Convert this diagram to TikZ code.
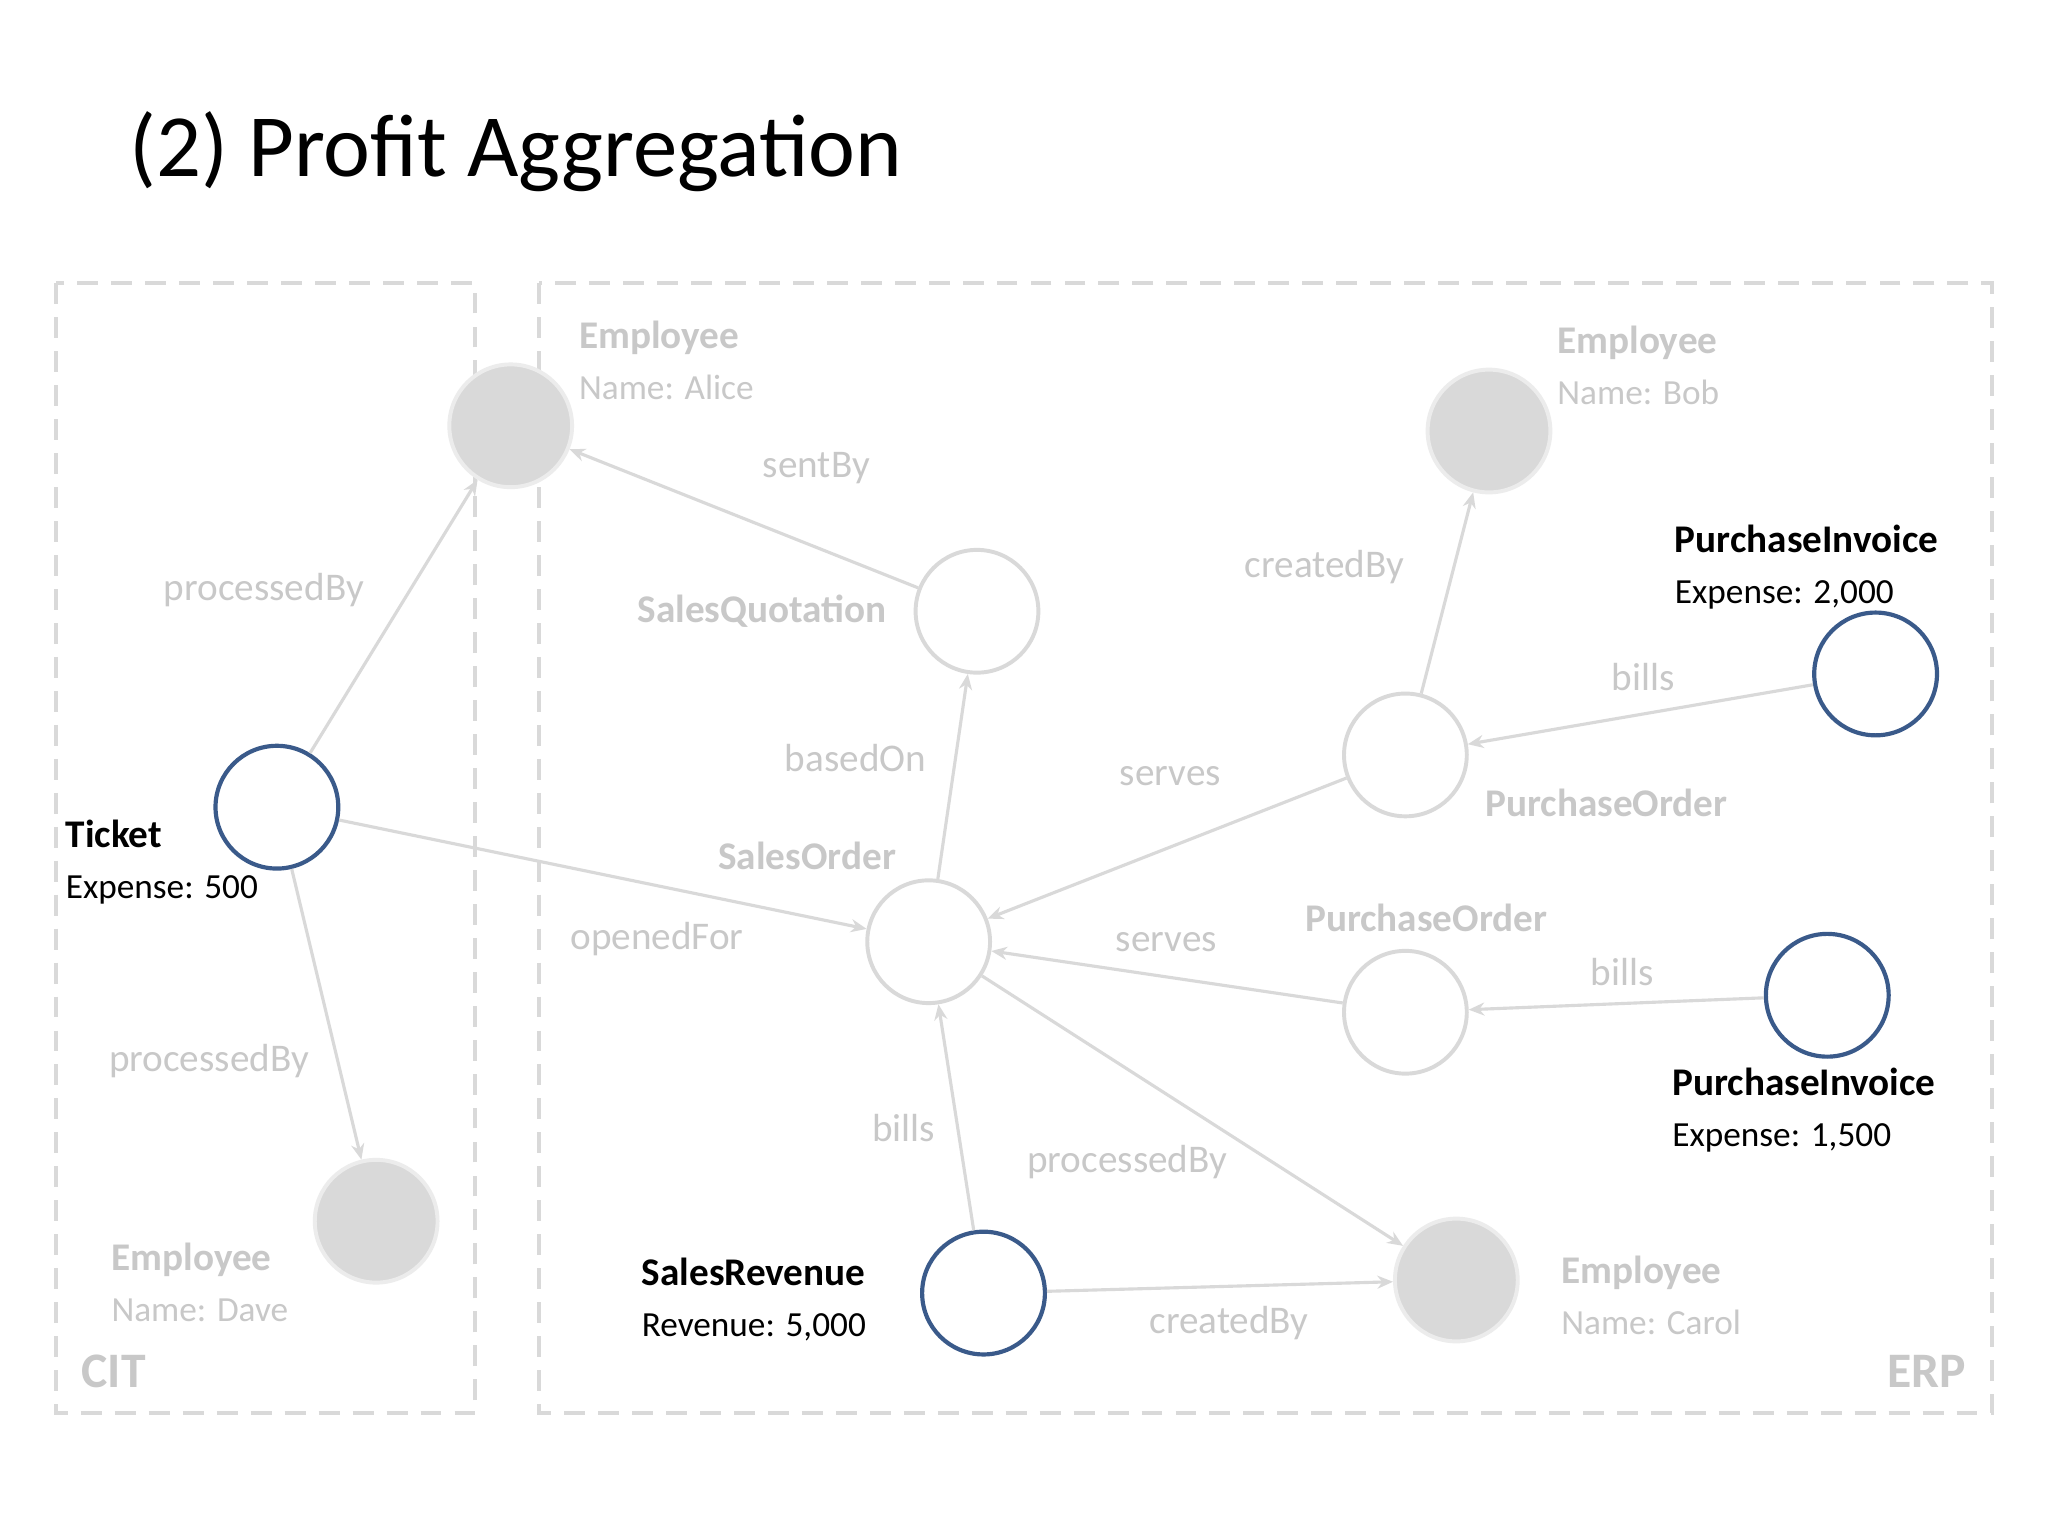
\documentclass[tikz,border=0pt]{standalone}
\usepackage{fontspec}
\setmainfont{Carlito}
\usetikzlibrary{arrows.meta}
\definecolor{lg}{HTML}{D9D9D9}
\definecolor{lt}{HTML}{C8C8C8}
\definecolor{bl}{HTML}{3A5A8A}
\begin{document}
\begin{tikzpicture}[x=0.5pt,y=-0.5pt,
  circ/.style={circle,draw=lg,line width=1.5pt,minimum size=47pt,inner sep=0pt,fill=white},
  fcirc/.style={circle,draw=lg!50,line width=1.5pt,fill=lg,minimum size=47pt,inner sep=0pt},
  bcirc/.style={circle,draw=bl,line width=1.6pt,minimum size=47pt,inner sep=0pt,fill=white},
  edge/.style={draw=lg,line width=1.2pt,-{Stealth[length=6pt,width=5pt]}},
  el/.style={text=lt,font=\fontsize{15}{17}\selectfont},
  gb/.style={text=lt,font=\bfseries\fontsize{15}{17}\selectfont},
  info/.style={align=left,anchor=west,font=\fontsize{13.5}{19.5}\selectfont,inner sep=0pt},
  box/.style={draw=lg,line width=1.5pt,dash pattern=on 8pt off 5pt}]
\path[use as bounding box,fill=white] (0,0) rectangle (1568,1176);
\node[anchor=west,font=\fontsize{34}{40}\selectfont] (title) at (92,116) {(2) Profit Aggregation};
\draw[box] (43,217) rectangle (364,1082);
\draw[box] (413,217) rectangle (1525,1082);
\node[gb,font=\bfseries\fontsize{19}{21}\selectfont] (cit) at (87,1050) {CIT};
\node[gb,font=\bfseries\fontsize{19}{21}\selectfont] (erp) at (1475,1050) {ERP};

\node[fcirc] (alice) at (391,326) {};
\node[fcirc] (bob) at (1140,330) {};
\node[fcirc] (dave) at (288,935) {};
\node[fcirc] (carol) at (1115,980) {};
\node[circ] (sq) at (748,468) {};
\node[circ] (so) at (711,721) {};
\node[circ] (po1) at (1076,578) {};
\node[circ] (po2) at (1076,775) {};
\node[bcirc] (pi1) at (1436,516) {};
\node[bcirc] (pi2) at (1399,762) {};
\node[bcirc] (ticket) at (212,618) {};
\node[bcirc] (sr) at (753,990) {};

\draw[edge] (ticket) -- (alice);
\draw[edge] (ticket) -- (dave);
\draw[edge] (ticket) -- (so);
\draw[edge] (sq) -- (alice);
\draw[edge] (so) -- (sq);
\draw[edge] (po1) -- (so);
\draw[edge] (po2) -- (so);
\draw[edge] (po1) -- (bob);
\draw[edge] (pi1) -- (po1);
\draw[edge] (pi2) -- (po2);
\draw[edge] (sr) -- (so);
\draw[edge] (so) -- (carol);
\draw[edge] (sr) -- (carol);

\node[el] (l1) at (202,452) {processedBy};
\node[el] (l2) at (160,812) {processedBy};
\node[el] (l3) at (503,719) {openedFor};
\node[el] (l4) at (625,358) {sentBy};
\node[el] (l5) at (655,580) {basedOn};
\node[el] (l6) at (896,594) {serves};
\node[el] (l7) at (893,721) {serves};
\node[el] (l8) at (1014,434) {createdBy};
\node[el] (l9) at (1258,518) {bills};
\node[el] (l10) at (1242,744) {bills};
\node[el] (l11) at (692,864) {bills};
\node[el] (l12) at (863,890) {processedBy};
\node[el] (l13) at (941,1013) {createdBy};

\node[info,text=lt] (ta) at (443,276) {\textbf{\fontsize{15}{19.5}\selectfont Employee}\\Name: Alice};
\node[info,text=lt] (tb) at (1192,280) {\textbf{\fontsize{15}{19.5}\selectfont Employee}\\Name: Bob};
\node[info,text=lt] (td) at (85,982) {\textbf{\fontsize{15}{19.5}\selectfont Employee}\\Name: Dave};
\node[info,text=lt] (tc) at (1195,992) {\textbf{\fontsize{15}{19.5}\selectfont Employee}\\Name: Carol};
\node[gb,anchor=east] (tsq) at (686,468) {SalesQuotation};
\node[gb] (tso) at (618,655) {SalesOrder};
\node[gb] (tpo1) at (1230,615) {PurchaseOrder};
\node[gb] (tpo2) at (1092,703) {PurchaseOrder};
\node[info] (tpi1) at (1282,434) {\textbf{\fontsize{15}{19.5}\selectfont PurchaseInvoice}\\Expense: 2,000};
\node[info] (tpi2) at (1280,850) {\textbf{\fontsize{15}{19.5}\selectfont PurchaseInvoice}\\Expense: 1,500};
\node[info] (tt) at (50,660) {\textbf{\fontsize{15}{19.5}\selectfont Ticket}\\Expense: 500};
\node[info] (tsr) at (491,995) {\textbf{\fontsize{15}{19.5}\selectfont SalesRevenue}\\Revenue: 5,000};
\end{tikzpicture}
\end{document}
